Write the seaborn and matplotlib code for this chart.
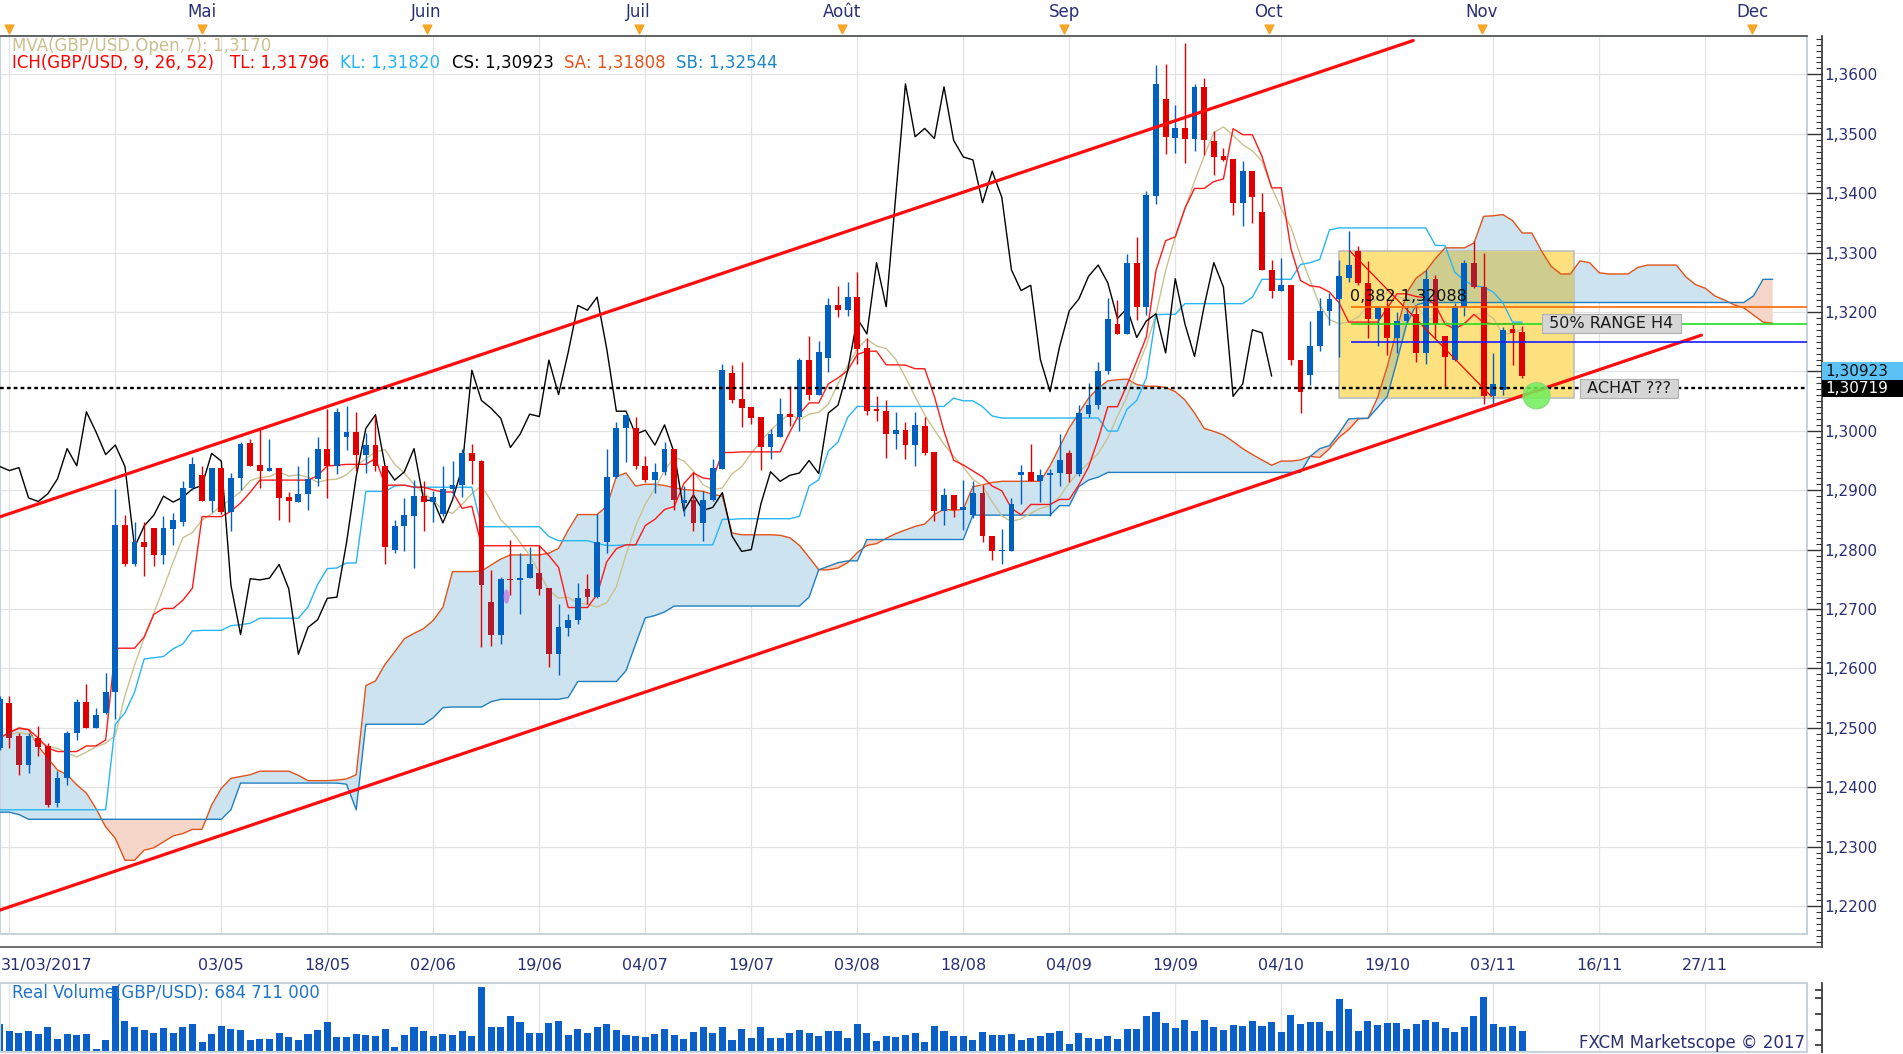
import numpy as np
import pandas as pd
import matplotlib
matplotlib.use("Agg")
import matplotlib.pyplot as plt
import matplotlib.transforms as mtransforms
from matplotlib.patches import Rectangle, Ellipse
from matplotlib.path import Path
from matplotlib.ticker import MultipleLocator, FuncFormatter
import seaborn as sns

# GBP/USD daily bars (bar 0 = 30/03/2017)
open_ = [1.2466, 1.2541, 1.2486, 1.2438, 1.2483, 1.2469, 1.2373, 1.2415, 1.2492, 1.2544,
         1.2500, 1.2525, 1.2561, 1.2842, 1.2776, 1.2812, 1.2837, 1.2791, 1.2834, 1.2847,
         1.2904, 1.2925, 1.2882, 1.2938, 1.2864, 1.2921, 1.2979, 1.2942, 1.2933, 1.2938,
         1.2889, 1.2880, 1.2893, 1.2919, 1.2970, 1.2941, 1.2990, 1.2998, 1.2960, 1.2976,
         1.2940, 1.2799, 1.2839, 1.2857, 1.2890, 1.2880, 1.2860, 1.2902, 1.2908, 1.2962,
         1.2949, 1.2712, 1.2657, 1.2751, 1.2749, 1.2752, 1.2760, 1.2736, 1.2624, 1.2668,
         1.2681, 1.2734, 1.2720, 1.2812, 1.2923, 1.3004, 1.3004, 1.2940, 1.2917, 1.2931,
         1.2970, 1.2879, 1.2883, 1.2844, 1.2883, 1.2936, 1.3098, 1.3053, 1.3040, 1.3023,
         1.2972, 1.2989, 1.3029, 1.3023, 1.3119, 1.3061, 1.3123, 1.3211, 1.3203, 1.3225,
         1.3139, 1.3036, 1.3033, 1.2994, 1.3001, 1.2976, 1.3008, 1.2964, 1.2865, 1.2892,
         1.2866, 1.2858, 1.2896, 1.2823, 1.2797, 1.2798, 1.2925, 1.2931, 1.2916, 1.2925,
         1.2929, 1.2962, 1.2928, 1.3029, 1.3043, 1.3100, 1.3180, 1.3163, 1.3283, 1.3209,
         1.3396, 1.3558, 1.3493, 1.3509, 1.3492, 1.3579, 1.3488, 1.3462, 1.3458, 1.3384,
         1.3437, 1.3368, 1.3271, 1.3236, 1.3245, 1.3120, 1.3094, 1.3142, 1.3202, 1.3222,
         1.3258, 1.3303, 1.3249, 1.3189, 1.3206, 1.3157, 1.3185, 1.3197, 1.3131, 1.3256,
         1.3159, 1.3120, 1.3208, 1.3283, 1.3242, 1.3058, 1.3069, 1.3172, 1.3166]
high = [1.2554, 1.2553, 1.2492, 1.2492, 1.2503, 1.2475, 1.2427, 1.2494, 1.2548, 1.2573,
        1.2533, 1.2593, 1.2902, 1.2858, 1.2846, 1.2846, 1.2837, 1.2856, 1.2862, 1.2915,
        1.2956, 1.2941, 1.2938, 1.2938, 1.2929, 1.2981, 1.2986, 1.3003, 1.2987, 1.2938,
        1.2897, 1.2940, 1.2956, 1.2989, 1.3036, 1.3038, 1.3041, 1.3032, 1.2997, 1.3025,
        1.2940, 1.2849, 1.2887, 1.2918, 1.2915, 1.2898, 1.2940, 1.2949, 1.2970, 1.2977,
        1.2951, 1.2766, 1.2754, 1.2816, 1.2794, 1.2805, 1.2808, 1.2736, 1.2709, 1.2691,
        1.2743, 1.2759, 1.2860, 1.2970, 1.3014, 1.3027, 1.3023, 1.2958, 1.2946, 1.2981,
        1.2970, 1.2907, 1.2931, 1.2898, 1.2953, 1.3113, 1.3110, 1.3115, 1.3040, 1.3023,
        1.3003, 1.3056, 1.3075, 1.3123, 1.3160, 1.3151, 1.3224, 1.3244, 1.3250, 1.3268,
        1.3157, 1.3059, 1.3052, 1.3032, 1.3015, 1.3032, 1.3023, 1.2964, 1.2903, 1.2892,
        1.2918, 1.2915, 1.2909, 1.2823, 1.2835, 1.2887, 1.2942, 1.2977, 1.2936, 1.2936,
        1.2994, 1.2967, 1.3043, 1.3081, 1.3115, 1.3224, 1.3221, 1.3298, 1.3327, 1.3403,
        1.3616, 1.3617, 1.3548, 1.3653, 1.3584, 1.3594, 1.3504, 1.3476, 1.3458, 1.3454,
        1.3437, 1.3401, 1.3288, 1.3291, 1.3245, 1.3120, 1.3184, 1.3224, 1.3232, 1.3288,
        1.3336, 1.3311, 1.3286, 1.3210, 1.3221, 1.3200, 1.3210, 1.3212, 1.3270, 1.3263,
        1.3159, 1.3215, 1.3288, 1.3319, 1.3299, 1.3131, 1.3174, 1.3179, 1.3176]
low = [1.2463, 1.2466, 1.2420, 1.2424, 1.2452, 1.2366, 1.2366, 1.2404, 1.2480, 1.2500,
       1.2500, 1.2523, 1.2514, 1.2772, 1.2772, 1.2755, 1.2773, 1.2776, 1.2807, 1.2839,
       1.2901, 1.2882, 1.2864, 1.2860, 1.2831, 1.2901, 1.2940, 1.2904, 1.2932, 1.2849,
       1.2846, 1.2880, 1.2866, 1.2907, 1.2887, 1.2928, 1.2968, 1.2932, 1.2929, 1.2932,
       1.2776, 1.2795, 1.2797, 1.2769, 1.2831, 1.2847, 1.2856, 1.2888, 1.2888, 1.2910,
       1.2636, 1.2638, 1.2641, 1.2723, 1.2691, 1.2752, 1.2723, 1.2603, 1.2589, 1.2654,
       1.2675, 1.2708, 1.2718, 1.2795, 1.2921, 1.2947, 1.2935, 1.2914, 1.2895, 1.2925,
       1.2867, 1.2856, 1.2831, 1.2814, 1.2881, 1.2935, 1.3047, 1.3006, 1.3011, 1.2934,
       1.2953, 1.2989, 1.3008, 1.3000, 1.3052, 1.3061, 1.3099, 1.3192, 1.3193, 1.3113,
       1.3026, 1.3016, 1.2954, 1.2969, 1.2953, 1.2941, 1.2959, 1.2848, 1.2842, 1.2855,
       1.2833, 1.2853, 1.2813, 1.2782, 1.2775, 1.2797, 1.2876, 1.2915, 1.2880, 1.2857,
       1.2907, 1.2913, 1.2924, 1.3023, 1.3036, 1.3096, 1.3163, 1.3163, 1.3186, 1.3195,
       1.3381, 1.3466, 1.3468, 1.3451, 1.3471, 1.3465, 1.3430, 1.3454, 1.3364, 1.3344,
       1.3350, 1.3271, 1.3224, 1.3235, 1.3110, 1.3030, 1.3077, 1.3134, 1.3178, 1.3125,
       1.3251, 1.3246, 1.3157, 1.3142, 1.3128, 1.3131, 1.3181, 1.3116, 1.3112, 1.3156,
       1.3073, 1.3118, 1.3193, 1.3240, 1.3045, 1.3041, 1.3060, 1.3110, 1.3089]
close = [1.2548, 1.2483, 1.2438, 1.2486, 1.2467, 1.2370, 1.2415, 1.2492, 1.2544, 1.2500,
         1.2521, 1.2561, 1.2842, 1.2776, 1.2812, 1.2804, 1.2791, 1.2836, 1.2849, 1.2904,
         1.2944, 1.2882, 1.2938, 1.2864, 1.2921, 1.2977, 1.2940, 1.2933, 1.2938, 1.2887,
         1.2881, 1.2894, 1.2919, 1.2970, 1.2941, 1.3032, 1.2998, 1.2960, 1.2976, 1.2940,
         1.2804, 1.2840, 1.2858, 1.2890, 1.2880, 1.2888, 1.2902, 1.2908, 1.2962, 1.2949,
         1.2740, 1.2657, 1.2751, 1.2749, 1.2752, 1.2775, 1.2734, 1.2624, 1.2669, 1.2682,
         1.2718, 1.2720, 1.2812, 1.2923, 1.3004, 1.3027, 1.2940, 1.2917, 1.2931, 1.2970,
         1.2883, 1.2883, 1.2845, 1.2884, 1.2938, 1.3102, 1.3051, 1.3038, 1.3021, 1.2972,
         1.2994, 1.3028, 1.3024, 1.3119, 1.3061, 1.3132, 1.3211, 1.3203, 1.3225, 1.3138,
         1.3033, 1.3033, 1.2994, 1.3001, 1.2976, 1.3010, 1.2963, 1.2865, 1.2892, 1.2866,
         1.2871, 1.2896, 1.2823, 1.2797, 1.2800, 1.2877, 1.2931, 1.2915, 1.2925, 1.2929,
         1.2950, 1.2928, 1.3030, 1.3043, 1.3101, 1.3189, 1.3163, 1.3283, 1.3209, 1.3397,
         1.3584, 1.3495, 1.3509, 1.3492, 1.3579, 1.3489, 1.3461, 1.3456, 1.3384, 1.3437,
         1.3393, 1.3271, 1.3236, 1.3245, 1.3120, 1.3066, 1.3142, 1.3202, 1.3222, 1.3260,
         1.3279, 1.3249, 1.3189, 1.3206, 1.3157, 1.3185, 1.3197, 1.3131, 1.3256, 1.3180,
         1.3125, 1.3210, 1.3283, 1.3242, 1.3058, 1.3079, 1.3170, 1.3165, 1.3092]
# real volume, millions
volume_m = [927, 696, 629, 684, 596, 817, 420, 596, 563, 596,
            99, 386, 2175, 1016, 817, 718, 618, 784, 618, 817,
            916, 320, 596, 850, 751, 718, 386, 420, 420, 618,
            486, 386, 596, 718, 983, 486, 486, 585, 552, 519,
            751, 155, 552, 817, 684, 519, 585, 552, 684, 519,
            2142, 817, 817, 1181, 983, 618, 618, 949, 1016, 552,
            751, 618, 817, 916, 718, 552, 519, 486, 585, 751,
            552, 420, 651, 817, 618, 817, 386, 751, 453, 817,
            453, 453, 618, 718, 618, 519, 684, 684, 453, 916,
            618, 353, 519, 486, 552, 618, 320, 850, 684, 519,
            519, 386, 651, 552, 552, 585, 386, 453, 519, 618,
            684, 254, 618, 453, 420, 519, 420, 751, 751, 1181,
            1314, 949, 784, 1049, 684, 1049, 817, 718, 883, 850,
            1016, 850, 983, 651, 1214, 916, 983, 983, 684, 1744,
            1413, 684, 1016, 883, 949, 949, 751, 916, 1049, 983,
            784, 651, 817, 1181, 1811, 916, 817, 850, 685]
# indicator values on the first bars (their windows reach back before the chart)
tenkan_head = [1.2483, 1.2492, 1.2499, 1.2497, 1.2483, 1.2466, 1.2460, 1.2460]
kijun_head = [1.2362, 1.2362, 1.2362, 1.2362, 1.2362, 1.2362, 1.2362, 1.2362, 1.2362, 1.2362,
              1.2362, 1.2362, 1.2506, 1.2525, 1.2560, 1.2616, 1.2618, 1.2620, 1.2633, 1.2641,
              1.2663, 1.2664, 1.2664, 1.2664, 1.2672]
mva_head = [1.2486, 1.2489, 1.2492, 1.2489, 1.2477, 1.2469]
# Ichimoku cloud (senkou spans, 26 bars ahead)
span_a = [1.2483, 1.2492, 1.2500, 1.2497, 1.2469, 1.2449, 1.2429, 1.2421, 1.2404, 1.2390,
          1.2364, 1.2333, 1.2314, 1.2277, 1.2277, 1.2294, 1.2298, 1.2308, 1.2318, 1.2322,
          1.2329, 1.2329, 1.2370, 1.2398, 1.2415, 1.2418, 1.2421, 1.2427, 1.2427, 1.2427,
          1.2427, 1.2420, 1.2411, 1.2411, 1.2411, 1.2412, 1.2414, 1.2421, 1.2571, 1.2579,
          1.2607, 1.2628, 1.2650, 1.2659, 1.2667, 1.2681, 1.2703, 1.2763, 1.2763, 1.2763,
          1.2764, 1.2774, 1.2784, 1.2791, 1.2791, 1.2791, 1.2791, 1.2794, 1.2802, 1.2833,
          1.2859, 1.2859, 1.2859, 1.2873, 1.2923, 1.2929, 1.2907, 1.2910, 1.2910, 1.2908,
          1.2904, 1.2901, 1.2900, 1.2898, 1.2893, 1.2890, 1.2828, 1.2825, 1.2825, 1.2825,
          1.2825, 1.2824, 1.2820, 1.2807, 1.2787, 1.2766, 1.2766, 1.2769, 1.2778, 1.2795,
          1.2807, 1.2810, 1.2819, 1.2827, 1.2833, 1.2839, 1.2843, 1.2859, 1.2868, 1.2866,
          1.2868, 1.2906, 1.2909, 1.2913, 1.2915, 1.2915, 1.2915, 1.2915, 1.2915, 1.2941,
          1.2973, 1.3005, 1.3030, 1.3055, 1.3072, 1.3084, 1.3086, 1.3087, 1.3078, 1.3075,
          1.3075, 1.3073, 1.3066, 1.3052, 1.3030, 1.3004, 1.2999, 1.2993, 1.2982, 1.2970,
          1.2960, 1.2951, 1.2942, 1.2949, 1.2949, 1.2951, 1.2957, 1.2955, 1.2970, 1.2989,
          1.3002, 1.3020, 1.3021, 1.3056, 1.3108, 1.3170, 1.3232, 1.3257, 1.3269, 1.3290,
          1.3308, 1.3308, 1.3308, 1.3316, 1.3361, 1.3362, 1.3364, 1.3354, 1.3333, 1.3333,
          1.3303, 1.3277, 1.3264, 1.3264, 1.3286, 1.3283, 1.3266, 1.3264, 1.3264, 1.3264,
          1.3275, 1.3279, 1.3279, 1.3279, 1.3279, 1.3259, 1.3246, 1.3240, 1.3227, 1.3220,
          1.3212, 1.3207, 1.3195, 1.3183, 1.3181]
span_b = [1.2358, 1.2358, 1.2354, 1.2346, 1.2346, 1.2346, 1.2346, 1.2346, 1.2346, 1.2346,
          1.2346, 1.2346, 1.2346, 1.2346, 1.2346, 1.2346, 1.2346, 1.2346, 1.2346, 1.2346,
          1.2346, 1.2346, 1.2346, 1.2346, 1.2362, 1.2407, 1.2407, 1.2407, 1.2407, 1.2407,
          1.2407, 1.2407, 1.2407, 1.2407, 1.2407, 1.2407, 1.2405, 1.2362, 1.2506, 1.2506,
          1.2506, 1.2506, 1.2506, 1.2506, 1.2506, 1.2517, 1.2534, 1.2535, 1.2535, 1.2535,
          1.2535, 1.2544, 1.2548, 1.2548, 1.2548, 1.2548, 1.2548, 1.2548, 1.2548, 1.2551,
          1.2578, 1.2578, 1.2578, 1.2578, 1.2578, 1.2596, 1.2641, 1.2685, 1.2689, 1.2695,
          1.2705, 1.2705, 1.2705, 1.2705, 1.2705, 1.2705, 1.2705, 1.2705, 1.2705, 1.2705,
          1.2705, 1.2705, 1.2705, 1.2705, 1.2720, 1.2766, 1.2772, 1.2778, 1.2781, 1.2781,
          1.2817, 1.2817, 1.2817, 1.2817, 1.2817, 1.2817, 1.2817, 1.2817, 1.2817, 1.2817,
          1.2817, 1.2858, 1.2858, 1.2858, 1.2858, 1.2858, 1.2858, 1.2858, 1.2858, 1.2858,
          1.2874, 1.2874, 1.2906, 1.2917, 1.2922, 1.2930, 1.2930, 1.2930, 1.2930, 1.2930,
          1.2930, 1.2930, 1.2930, 1.2930, 1.2930, 1.2930, 1.2930, 1.2930, 1.2930, 1.2930,
          1.2930, 1.2930, 1.2930, 1.2930, 1.2930, 1.2930, 1.2957, 1.2970, 1.2975, 1.2996,
          1.3020, 1.3021, 1.3021, 1.3039, 1.3058, 1.3117, 1.3179, 1.3212, 1.3216, 1.3216,
          1.3216, 1.3216, 1.3216, 1.3216, 1.3216, 1.3216, 1.3216, 1.3216, 1.3216, 1.3216,
          1.3216, 1.3216, 1.3216, 1.3216, 1.3216, 1.3216, 1.3216, 1.3216, 1.3216, 1.3216,
          1.3216, 1.3216, 1.3216, 1.3216, 1.3216, 1.3216, 1.3216, 1.3216, 1.3216, 1.3216,
          1.3216, 1.3216, 1.3227, 1.3255, 1.3255]

date_ticks = [1, 12, 23, 34, 45, 56, 67, 78, 89, 100, 111, 122, 133, 144, 155, 166, 177]
date_labels = ['31/03/2017', '', '03/05', '18/05', '02/06', '19/06', '04/07', '19/07',
               '03/08', '18/08', '04/09', '19/09', '04/10', '19/10', '03/11', '16/11', '27/11']
month_pos = [0.94, 21.0, 44.3, 66.3, 87.4, 110.5, 131.7, 153.8, 181.9]
month_labels = ['', 'Mai', 'Juin', 'Juil', 'Août', 'Sep', 'Oct', 'Nov', 'Dec']

# hand-drawn objects
upper_x, upper_y = [0, 146.7], [1.2855, 1.3657]
lower_x, lower_y = [0, 176.6], [1.2193, 1.3161]
fib_x, fib_y = [140.1, 154.8], [1.3303, 1.3058]
box_x, box_y = [139.0, 163.4], [1.3056, 1.3303]
level_vals = [1.32088, 1.3180, 1.3150]
level_cols = ['#ff6a00', '#22dd22', '#1a1aff']
level_start = 140.2
support = 1.30719
last_close = 1.30923

BLUE, RED = '#0060c0', '#e00000'
NAVY = '#2a2f72'
W, H = 1903, 1054
XLIM = (0.035, 187.56)
YLIM = (1.21529, 1.36646)

sns.set_theme(style="white")
plt.rcParams['font.family'] = ['DejaVu Sans']

fig = plt.figure(figsize=(W / 100, H / 100), dpi=100)


def rect(x0, y0, x1, y1):
    return [x0 / W, 1 - y1 / H, (x1 - x0) / W, (y1 - y0) / H]


def ftext(x, y, s, **kw):
    fig.text(x / W, 1 - y / H, s, va='center', ha='left', **kw)


def price_fmt(v, pos):
    # the 1,3100 label sits under the last-close tag
    if abs(v - 1.31) < 1e-6:
        return ''
    return f"{v:.4f}".replace('.', ',')


# ---------------- main price panel ----------------
ax = fig.add_axes(rect(0, 36, 1807, 934))
ax.set_xlim(XLIM)
ax.set_ylim(YLIM)
ax.set_xticks(date_ticks)
ax.yaxis.set_major_locator(MultipleLocator(0.01))
ax.grid(True, color='#e2e2e2', lw=0.9)
ax.tick_params(length=0, labelbottom=False, labelleft=False)
for s in ax.spines.values():
    s.set_color('#c9d3de')
    s.set_linewidth(1.5)

df = pd.DataFrame({'o': open_, 'h': high, 'l': low, 'c': close})
df['bar'] = np.arange(len(df))
tk = (df.h.rolling(9).max() + df.l.rolling(9).min()) / 2
kj = (df.h.rolling(26).max() + df.l.rolling(26).min()) / 2
mv = df.o.rolling(7).mean()
df['tenkan'] = tk.values
df['kijun'] = kj.values
df['mva'] = mv.values
df.loc[:len(tenkan_head) - 1, 'tenkan'] = tenkan_head
df.loc[:len(kijun_head) - 1, 'kijun'] = kijun_head
df.loc[:len(mva_head) - 1, 'mva'] = mva_head

cx = np.arange(len(span_a))
sa = np.array(span_a)
sb = np.array(span_b)
cloud_up = ax.fill_between(cx, sa, sb, where=sa >= sb, interpolate=True, color='#cde3f0', lw=0, zorder=1)
cloud_dn = ax.fill_between(cx, sa, sb, where=sa < sb, interpolate=True, color='#f6d6c9', lw=0, zorder=1)

# yellow range box, cloud seen through it
box_patch = Rectangle((box_x[0], box_y[0]), box_x[1] - box_x[0], box_y[1] - box_y[0],
                      fc='#fde17f', ec='#bdbdbd', lw=1.2, zorder=2)
ax.add_patch(box_patch)
ov1 = ax.fill_between(cx, sa, sb, where=sa >= sb, interpolate=True, color='#cfcd8d', lw=0, zorder=2.2)
ov1.set_clip_path(box_patch)
ov2 = ax.fill_between(cx, sa, sb, where=sa < sb, interpolate=True, color='#f2c68f', lw=0, zorder=2.2)
ov2.set_clip_path(box_patch)

sns.lineplot(x=cx, y=sa, color='#e2531c', lw=1.0, ax=ax, zorder=3)
sns.lineplot(x=cx, y=sb, color='#1f7fc0', lw=1.0, ax=ax, zorder=3)
sns.lineplot(data=df, x='bar', y='mva', color='#c9c28f', lw=1.0, ax=ax, zorder=4)
sns.lineplot(data=df, x='bar', y='kijun', color='#27b6f5', lw=1.0, ax=ax, zorder=4)
sns.lineplot(data=df, x='bar', y='tenkan', color='#ff1a1a', lw=1.0, ax=ax, zorder=4)
sns.lineplot(x=df.bar.values[:-26], y=df.c.values[26:], color='black', lw=1.0, ax=ax, zorder=4)
ax.set_xlabel('')
ax.set_ylabel('')

# candles
o, c, hi, lo = df.o.values, df.c.values, df.h.values, df.l.values
idx = df.bar.values
up = c >= o
cols = np.where(up, BLUE, RED)
ax.vlines(idx, lo, hi, colors=cols, lw=1.0, zorder=5)
body_lo = np.minimum(o, c)
body_h = np.maximum(np.abs(c - o), 0.00022)
ax.bar(idx, body_h, bottom=body_lo, width=0.6, color=cols, lw=0, zorder=6)
cloud_path = Path.make_compound_path(*(list(cloud_up.get_paths()) + list(cloud_dn.get_paths())))
dark = ax.bar(idx[~up], body_h[~up], bottom=body_lo[~up], width=0.6, color='#b21b2c', lw=0, zorder=6.1)
for p in dark.patches:
    p.set_clip_path(cloud_path, ax.transData)
ax.add_patch(Ellipse((52.6, 1.2721), 0.6, 0.0024, fc='#c58fe8', ec='none', zorder=6.2))

# channel, levels, labels
ax.plot(upper_x, upper_y, color='#ff0d0d', lw=2.3, zorder=7)
ax.plot(lower_x, lower_y, color='#ff0d0d', lw=2.3, zorder=7)
ax.plot(fib_x, fib_y, color='#ff0000', lw=0.9, zorder=7)
for v, col in zip(level_vals, level_cols):
    ax.hlines(v, level_start, XLIM[1], colors=col, lw=1.2, zorder=7)
ax.axhline(support, color='black', lw=1.7, ls=(0, (1.6, 1.3)), zorder=7)
ax.add_patch(Ellipse((159.5, 1.3059), 2.8, 0.0044, fc='#6fef5a', ec='#8ad879', alpha=0.85, zorder=8))
ax.text(140.1, 1.3213, '0,382 1,32088', fontsize=11.5, color='#111111', ha='left', va='bottom', zorder=9)
lab_box = dict(boxstyle='square,pad=0.12', fc='#d6d6d6', ec='#b0b0b0', lw=0.8)
ax.text(160.3, 1.3180, ' 50% RANGE H4 ', fontsize=11.5, color='#1a1a1a', ha='left', va='center',
        bbox=lab_box, zorder=9)
ax.text(164.2, support, ' ACHAT ??? ', fontsize=11.5, color='#1a1a1a', ha='left', va='center',
        bbox=lab_box, zorder=9)

# ---------------- right price axis ----------------
axr = fig.add_axes(rect(0, 36, 1822, 947))
axr.patch.set_alpha(0)
axr.set_ylim(1.21310, YLIM[1])
axr.set_xticks([])
for k in ['left', 'top', 'bottom']:
    axr.spines[k].set_visible(False)
axr.spines['right'].set_color('#333333')
axr.spines['right'].set_linewidth(1.2)
axr.yaxis.tick_right()
axr.yaxis.set_major_locator(MultipleLocator(0.01))
axr.yaxis.set_minor_locator(MultipleLocator(0.001))
axr.yaxis.set_major_formatter(FuncFormatter(price_fmt))
axr.tick_params(axis='y', which='major', direction='in', length=10.8, width=1, color='#333333',
                labelsize=11, labelcolor=NAVY, pad=2)
axr.tick_params(axis='y', which='minor', direction='in', length=4.3, width=0.8, color='#333333')

# price tags
tr = mtransforms.blended_transform_factory(fig.transFigure, ax.transData)
fig.add_artist(Rectangle((1822 / W, support - 0.0015), 81 / W, 0.00285, transform=tr,
                         fc='black', ec='none'))
fig.text(1825 / W, support - 0.0001, '1,30719', transform=tr, color='white', fontsize=11, va='center')
fig.add_artist(Rectangle((1822 / W, support + 0.00135), 81 / W, 0.0030, transform=tr,
                         fc='#5cc2f6', ec='none'))
fig.text(1825 / W, support + 0.00285, f"{last_close:.5f}".replace('.', ','), transform=tr,
         color='#111111', fontsize=11, va='center')

# ---------------- top (month) axis ----------------
axt = fig.add_axes(rect(0, 0, 1807, 36))
axt.patch.set_alpha(0)
axt.set_xlim(XLIM)
axt.set_ylim(36, 0)
axt.set_yticks([])
for k in ['left', 'top', 'right']:
    axt.spines[k].set_visible(False)
axt.spines['bottom'].set_color('#555555')
axt.set_xticks(month_pos)
axt.set_xticklabels([])
axt.xaxis.set_minor_locator(MultipleLocator(2.575, offset=0.94))
axt.tick_params(axis='x', which='major', direction='in', length=8.6, color='#555555')
axt.tick_params(axis='x', which='minor', direction='in', length=4.3, color='#555555')
axt.scatter(month_pos, [29] * len(month_pos), marker='v', s=40, color='#f5a623', zorder=5, clip_on=False)
for mp, ml in zip(month_pos, month_labels):
    axt.text(mp, 12, ml, ha='center', va='center', fontsize=12, color=NAVY)

# ---------------- bottom (date) axis ----------------
axd = fig.add_axes(rect(0, 934, 1822, 947))
axd.patch.set_alpha(0)
axd.set_xlim(XLIM[0], 189.12)
axd.set_yticks([])
for k in ['left', 'top', 'right']:
    axd.spines[k].set_visible(False)
axd.spines['bottom'].set_color('#555555')
axd.spines['bottom'].set_linewidth(1.2)
axd.set_xticks(date_ticks)
axd.set_xticklabels(date_labels)
axd.xaxis.set_minor_locator(MultipleLocator(11 / 8, offset=1))
axd.tick_params(axis='x', which='major', direction='in', length=8.6, color='#555555',
                labelsize=11.5, labelcolor=NAVY, pad=8)
axd.tick_params(axis='x', which='minor', direction='in', length=2.9, color='#555555')
first = axd.get_xticklabels()[0]
first.set_ha('left')
first.set_transform(first.get_transform() + mtransforms.ScaledTranslation(-0.08, 0, fig.dpi_scale_trans))

# ---------------- volume panel ----------------
axv = fig.add_axes(rect(0, 983, 1807, 1052))
vol = pd.DataFrame({'bar': idx, 'vol': volume_m})
sns.barplot(data=vol, x='bar', y='vol', native_scale=True, orient='x', width=0.73,
            color='#0a60c8', saturation=1, errorbar=None, lw=0, ax=axv)
axv.set_xlim(XLIM)
axv.set_ylim(0, 2285)
axv.set_xlabel('')
axv.set_ylabel('')
axv.set_xticks(date_ticks)
axv.set_yticks([])
axv.grid(True, axis='x', color='#e2e2e2', lw=0.9)
axv.set_axisbelow(True)
axv.tick_params(length=0, labelbottom=False)
for s in axv.spines.values():
    s.set_color('#c9d3de')
    s.set_linewidth(1.5)

axvr = fig.add_axes(rect(0, 983, 1822, 1052))
axvr.patch.set_alpha(0)
axvr.set_ylim(0, 2285)
axvr.set_xticks([])
for k in ['left', 'top', 'bottom']:
    axvr.spines[k].set_visible(False)
axvr.spines['right'].set_color('#333333')
axvr.yaxis.tick_right()
axvr.set_yticks([222, 742, 1271, 1801, 2066])
axvr.tick_params(axis='y', direction='in', length=5, color='#333333', labelright=False)

# ---------------- legends ----------------
ftext(12, 46, 'MVA(GBP/USD.Open,7): 1,3170', fontsize=12, color='#c8c08e')
ftext(12, 63, 'ICH(GBP/USD, 9, 26, 52)', fontsize=12, color='#ff0000')
ftext(230, 63, 'TL: 1,31796', fontsize=12, color='#ff0000')
ftext(340, 63, 'KL: 1,31820', fontsize=12, color='#22b4f5')
ftext(452, 63, 'CS: 1,30923', fontsize=12, color='black')
ftext(564, 63, 'SA: 1,31808', fontsize=12, color='#e2531c')
ftext(676, 63, 'SB: 1,32544', fontsize=12, color='#1f86c8')
ftext(12, 993, 'Real Volume(GBP/USD): 684 711 000', fontsize=12, color='#1f74c6')
fig.text(1805 / W, 1 - 1043 / H, 'FXCM Marketscope © 2017', fontsize=12, color=NAVY,
         ha='right', va='center')

fig.savefig('out.png', dpi=100)
